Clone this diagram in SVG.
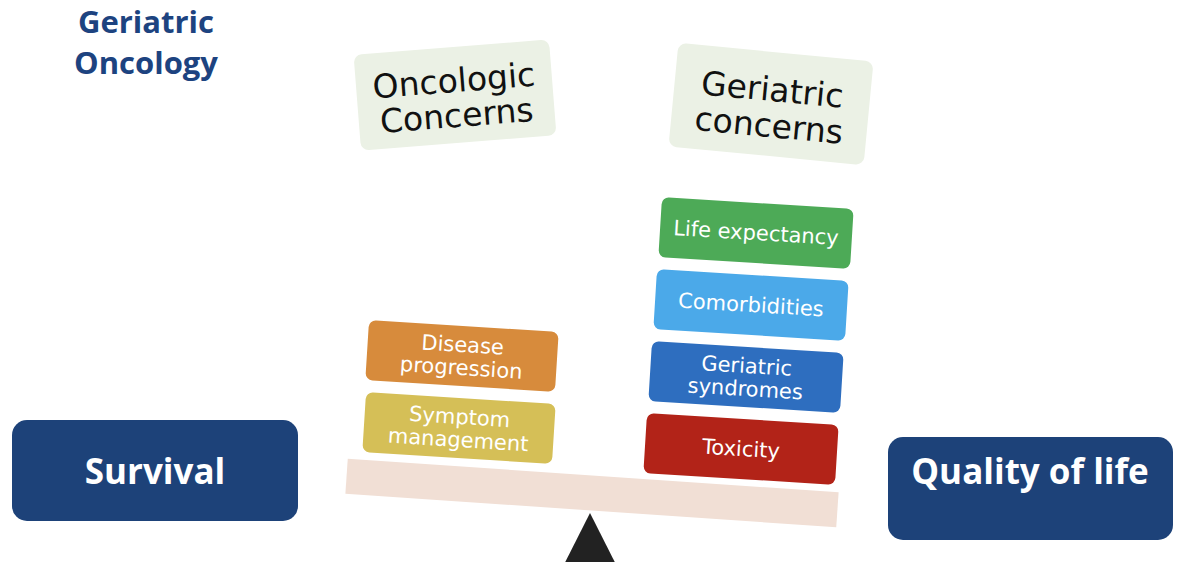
<svg xmlns="http://www.w3.org/2000/svg" width="1200" height="562" viewBox="0 0 1200 562">
<style>
.title{font-family:"Open Sans","Liberation Sans",sans-serif;font-weight:700;font-size:31px;fill:#1D4380}
.big{font-family:"Open Sans","Liberation Sans",sans-serif;font-weight:700;font-size:35px;fill:#fff}
.hdr{font-family:"DejaVu Sans",sans-serif;font-size:33px;fill:#111}
.lbl{font-family:"DejaVu Sans",sans-serif;font-size:21px;fill:#fff}
.hbox{fill:#EBF1E5}
</style>
<rect width="1200" height="562" fill="#fff"/>
<g id="title">
<text class="title" x="146" y="33" text-anchor="middle">Geriatric</text>
<text class="title" x="146" y="74" text-anchor="middle">Oncology</text>
</g>
<g id="survival">
<rect x="12" y="420" width="286" height="101" rx="15" fill="#1D4279"/>
<text class="big" x="155" y="484" text-anchor="middle">Survival</text>
</g>
<g id="quality">
<rect x="888" y="437" width="285" height="103" rx="15" fill="#1D4279"/>
<text class="big" x="1030" y="484" text-anchor="middle">Quality of life</text>
</g>
<g id="oncologic-concerns" transform="translate(455,95) rotate(-4.5)">
<rect class="hbox" x="-98" y="-48" width="196" height="96" rx="8"/>
<text class="hdr" x="0" y="-3" text-anchor="middle">Oncologic</text>
<text class="hdr" x="0" y="32" text-anchor="middle">Concerns</text>
</g>
<g id="geriatric-concerns" transform="translate(771,104) rotate(5.5)">
<rect class="hbox" x="-98" y="-52" width="196" height="104" rx="8"/>
<text class="hdr" x="0" y="-3" text-anchor="middle">Geriatric</text>
<text class="hdr" x="0" y="33" text-anchor="middle">concerns</text>
</g>
<g id="fulcrum">
<polygon points="590,513 540,612 640,612" fill="#222"/>
</g>
<g id="beam" transform="translate(592,493) rotate(3.9)">
<rect x="-246" y="-17.5" width="492" height="35" fill="#F1DFD5"/>
</g>
<g id="disease-progression" transform="translate(462,356) rotate(3.6)">
<rect x="-95" y="-30" width="190" height="60" rx="7" fill="#D78B3C"/>
<text class="lbl" x="0" y="-4" text-anchor="middle">Disease</text>
<text class="lbl" x="0" y="19" text-anchor="middle">progression</text>
</g>
<g id="symptom-management" transform="translate(459,428) rotate(3.6)">
<rect x="-95" y="-30" width="190" height="60" rx="7" fill="#D5BF57"/>
<text class="lbl" x="0" y="-4" text-anchor="middle">Symptom</text>
<text class="lbl" x="0" y="19" text-anchor="middle">management</text>
</g>
<g id="life-expectancy" transform="translate(756,233) rotate(3.5)">
<rect x="-96" y="-30" width="192" height="60" rx="7" fill="#4DAA57"/>
<text class="lbl" x="0" y="7" text-anchor="middle">Life expectancy</text>
</g>
<g id="comorbidities" transform="translate(751,305) rotate(3.5)">
<rect x="-96" y="-30" width="192" height="60" rx="7" fill="#4BA9E9"/>
<text class="lbl" x="0" y="7" text-anchor="middle">Comorbidities</text>
</g>
<g id="geriatric-syndromes" transform="translate(746,377) rotate(3.5)">
<rect x="-96" y="-30" width="192" height="60" rx="7" fill="#2E6EBF"/>
<text class="lbl" x="0" y="-4" text-anchor="middle">Geriatric</text>
<text class="lbl" x="0" y="19" text-anchor="middle">syndromes</text>
</g>
<g id="toxicity" transform="translate(741,449) rotate(3.5)">
<rect x="-96" y="-30" width="192" height="60" rx="7" fill="#B22318"/>
<text class="lbl" x="0" y="7" text-anchor="middle">Toxicity</text>
</g>
<g id="connectors"/>
</svg>
